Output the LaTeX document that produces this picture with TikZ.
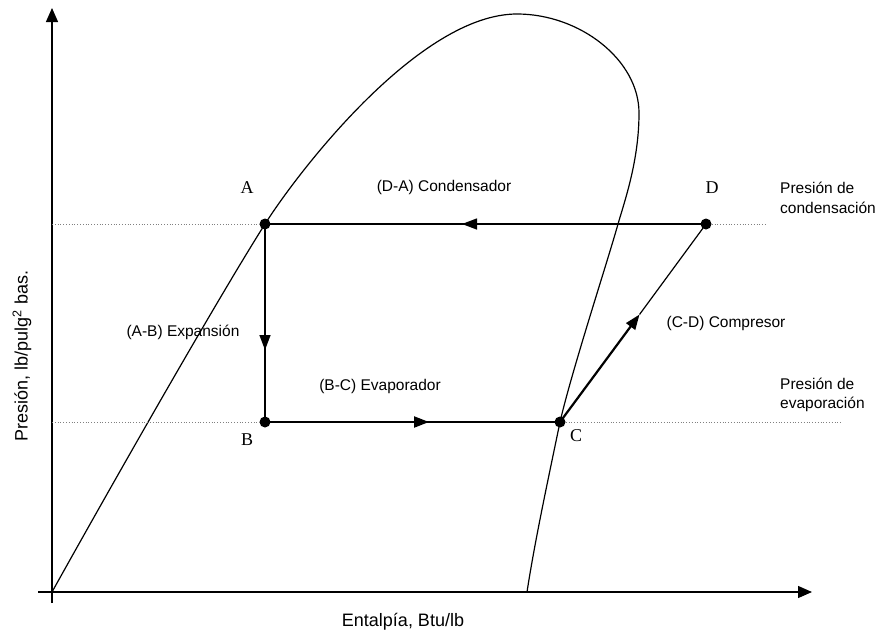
\documentclass[tikz,border=0pt]{standalone}
\usepackage{fontspec}
\setmainfont{Liberation Serif}
\newfontfamily\labfont{Liberation Sans}
\usetikzlibrary{arrows.meta}
\begin{document}
\begin{tikzpicture}[x=1pt,y=-1pt,
  dot/.style={circle,fill=black,inner sep=0pt,minimum size=11pt},
  ptlabel/.style={font=\fontsize{18}{20}\selectfont,inner sep=0pt},
  txt/.style={font=\labfont\fontsize{15.5}{19.5}\selectfont,inner sep=0pt},
  axlab/.style={font=\labfont\fontsize{18}{21}\selectfont,inner sep=0pt},
  cyc/.style={line width=1.4pt},
  midarrow/.style={-{Triangle[length=15pt,width=11pt]}},
  axisarrow/.style={line width=1.3pt,-{Triangle[length=14pt,width=12pt]}},
  guide/.style={dotted,gray,line width=0.8pt}]
\useasboundingbox (0,0) rectangle (880,632);
% axes
\coordinate (O) at (52,592);
\coordinate (ytop) at (52,8);
\coordinate (ybot) at (52,603);
\coordinate (xleft) at (38,592);
\coordinate (xright) at (812,592);
\draw[axisarrow] (ybot) -- (ytop);
\draw[axisarrow] (xleft) -- (xright);
% dome
\draw[line width=1.2pt] (O)
  .. controls (120,470) and (220,295) .. (265,224)
  .. controls (300,169) and (420,14) .. (517,14)
  .. controls (580,14) and (639,60) .. (639,113)
  .. controls (639,160) and (625,200) .. (618,224)
  .. controls (608,260) and (572,370) .. (560,422)
  .. controls (548,480) and (535,540) .. (527,592);
% state points
\node[dot] (A) at (265,224) {};
\node[dot] (B) at (265,422) {};
\node[dot] (C) at (560,422) {};
\node[dot] (D) at (706,224) {};
% guide lines
\coordinate (gA) at (52,224);
\coordinate (gD) at (765,224);
\coordinate (gB) at (52,422);
\coordinate (gC) at (842,422);
\draw[guide] (gA) -- (A);
\draw[guide] (D) -- (gD);
\draw[guide] (gB) -- (B);
\draw[guide] (C) -- (gC);
% cycle lines
\coordinate (mCD) at (639.5,314.5);
\draw[cyc] (D.center) -- (A.center);
\draw[cyc] (A.center) -- (B.center);
\draw[line width=2.2pt] (B.center) -- (C.center);
\draw[line width=1.2pt] (mCD) -- (D.center);
% direction arrows
\coordinate (mDA) at (462,224);
\coordinate (sDA) at (485,224);
\coordinate (mAB) at (265,350);
\coordinate (sAB) at (265,330);
\coordinate (mBC) at (429,422);
\coordinate (sBC) at (405,422);
\draw[cyc,midarrow] (sDA) -- (mDA);
\draw[cyc,midarrow] (sAB) -- (mAB);
\draw[line width=2.2pt,midarrow] (sBC) -- (mBC);
\draw[line width=2.2pt,midarrow] (C.center) -- (mCD);
% point labels
\node[ptlabel] (lA) at (247,188) {A};
\node[ptlabel] (lB) at (247,440) {B};
\node[ptlabel] (lC) at (576,436) {C};
\node[ptlabel] (lD) at (712,188) {D};
% process labels
\node[txt] (tDA) at (444,187) {(D-A) Condensador};
\node[txt] (tAB) at (183,332) {(A-B) Expansión};
\node[txt] (tBC) at (380,386) {(B-C) Evaporador};
\node[txt] (tCD) at (726,323) {(C-D) Compresor};
\node[txt,anchor=west,align=left] (pc) at (780,198) {Presión de\\condensación};
\node[txt,anchor=west,align=left] (pe) at (780,395) {Presión de\\evaporación};
% axis labels
\node[axlab] (xl) at (403,622) {Entalpía, Btu/lb};
\node[axlab,rotate=90] (yl) at (22,356) {Presión, lb/pulg\textsuperscript{2} bas.};
\end{tikzpicture}
\end{document}
